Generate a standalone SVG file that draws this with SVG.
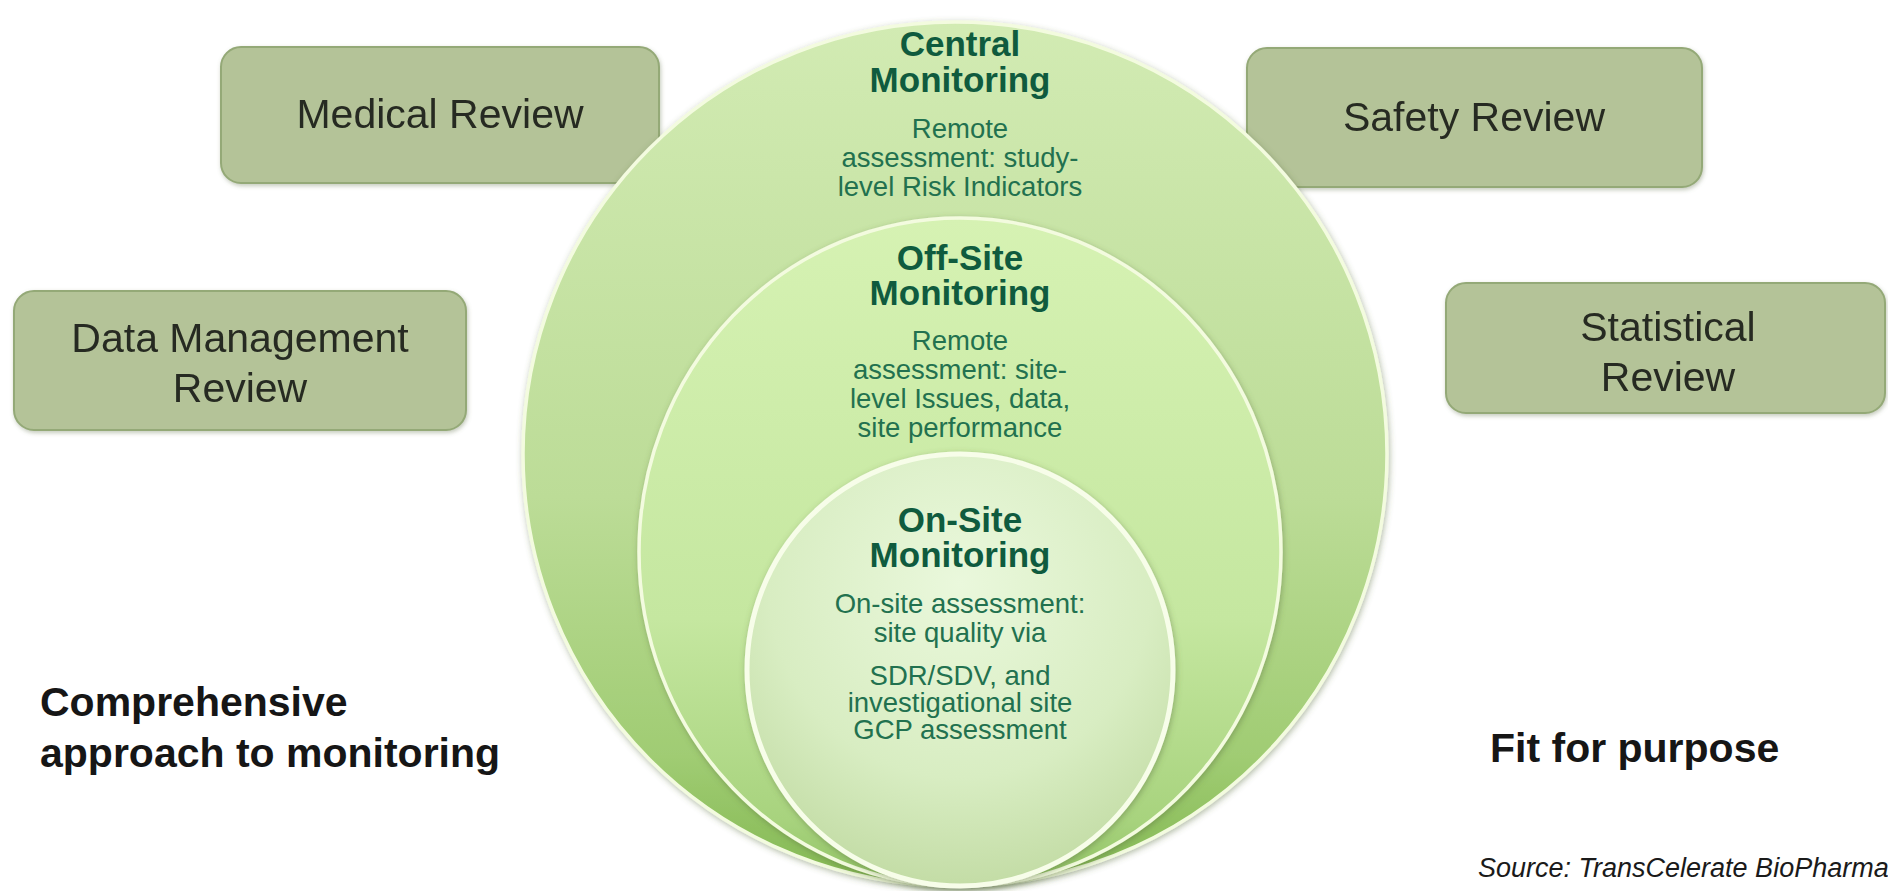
<svg xmlns="http://www.w3.org/2000/svg" width="1888" height="891" viewBox="0 0 1888 891">
  <defs>
    <linearGradient id="gOuter" x1="0" y1="0" x2="0" y2="1">
      <stop offset="0" stop-color="#d2ebb3"/>
      <stop offset="0.55" stop-color="#bcdc97"/>
      <stop offset="0.85" stop-color="#a0cc73"/>
      <stop offset="1" stop-color="#83b852"/>
    </linearGradient>
    <linearGradient id="gMiddle" x1="0" y1="0" x2="0" y2="1">
      <stop offset="0" stop-color="#d6f2b3"/>
      <stop offset="0.6" stop-color="#c5e7a0"/>
      <stop offset="0.9" stop-color="#a8d37e"/>
      <stop offset="1" stop-color="#90c263"/>
    </linearGradient>
    <radialGradient id="gInner" cx="0.5" cy="0.3" r="0.75">
      <stop offset="0" stop-color="#eaf8dc"/>
      <stop offset="0.6" stop-color="#d8edc2"/>
      <stop offset="1" stop-color="#bfd9a0"/>
    </radialGradient>
    <filter id="soft" x="-10%" y="-10%" width="120%" height="120%">
      <feGaussianBlur in="SourceAlpha" stdDeviation="3"/>
      <feOffset dx="1" dy="2" result="b"/>
      <feFlood flood-color="#556b3a" flood-opacity="0.45"/>
      <feComposite in2="b" operator="in"/>
      <feMerge><feMergeNode/><feMergeNode in="SourceGraphic"/></feMerge>
    </filter>
    <filter id="boxShadow" x="-10%" y="-10%" width="120%" height="130%">
      <feGaussianBlur in="SourceAlpha" stdDeviation="2"/>
      <feOffset dx="1" dy="2" result="b"/>
      <feFlood flood-color="#6b7a55" flood-opacity="0.4"/>
      <feComposite in2="b" operator="in"/>
      <feMerge><feMergeNode/><feMergeNode in="SourceGraphic"/></feMerge>
    </filter>
  </defs>
  <style>
    .box { fill: #b4c398; stroke: #94a977; stroke-width: 2; }
    .boxText { font-family: "Liberation Sans", Arial, sans-serif; font-size: 41px; fill: #282c22; text-anchor: middle; }
    .ring { stroke: #f3fbdf; stroke-width: 3.5; }
    .core { stroke: #f7fde9; stroke-width: 5; }
    .head { font-family: "Liberation Sans", Arial, sans-serif; font-weight: bold; font-size: 35px; fill: #0f5b3e; text-anchor: middle; }
    .body { font-family: "Liberation Sans", Arial, sans-serif; font-size: 27.5px; fill: #22714f; text-anchor: middle; }
    .note { font-family: "Liberation Sans", Arial, sans-serif; font-weight: bold; font-size: 41px; fill: #161616; }
    .source { font-family: "Liberation Sans", Arial, sans-serif; font-style: italic; font-size: 27px; fill: #1a1a1a; }
  </style>

  <rect x="0" y="0" width="1888" height="891" fill="#ffffff"/>

  <!-- review boxes -->
  <g id="medical-review" filter="url(#boxShadow)">
    <rect class="box" x="221" y="47" width="438" height="136" rx="20"/>
    <text class="boxText" x="440" y="128">Medical Review</text>
  </g>
  <g id="safety-review" filter="url(#boxShadow)">
    <rect class="box" x="1247" y="48" width="455" height="139" rx="20"/>
    <text class="boxText" x="1474" y="131">Safety Review</text>
  </g>
  <g id="data-management-review" filter="url(#boxShadow)">
    <rect class="box" x="14" y="291" width="452" height="139" rx="20"/>
    <text class="boxText" x="240" y="352">Data Management</text>
    <text class="boxText" x="240" y="402">Review</text>
  </g>
  <g id="statistical-review" filter="url(#boxShadow)">
    <rect class="box" x="1446" y="283" width="439" height="130" rx="20"/>
    <text class="boxText" x="1668" y="341">Statistical</text>
    <text class="boxText" x="1668" y="391">Review</text>
  </g>

  <!-- nested monitoring circles -->
  <g id="central-monitoring">
    <circle class="ring" cx="955" cy="454" r="432" fill="url(#gOuter)" filter="url(#soft)"/>
    <text class="head" x="960" y="56">Central</text>
    <text class="head" x="960" y="92">Monitoring</text>
    <text class="body" x="960" y="138">Remote</text>
    <text class="body" x="960" y="167">assessment: study-</text>
    <text class="body" x="960" y="196">level Risk Indicators</text>
  </g>
  <g id="off-site-monitoring">
    <ellipse class="ring" cx="960" cy="552" rx="321" ry="334" fill="url(#gMiddle)" filter="url(#soft)"/>
    <text class="head" x="960" y="270">Off-Site</text>
    <text class="head" x="960" y="305">Monitoring</text>
    <text class="body" x="960" y="350">Remote</text>
    <text class="body" x="960" y="379">assessment: site-</text>
    <text class="body" x="960" y="408">level Issues, data,</text>
    <text class="body" x="960" y="437">site performance</text>
  </g>
  <g id="on-site-monitoring">
    <ellipse class="core" cx="960" cy="670" rx="213" ry="216" fill="url(#gInner)" filter="url(#soft)"/>
    <text class="head" x="960" y="532">On-Site</text>
    <text class="head" x="960" y="567">Monitoring</text>
    <text class="body" x="960" y="613">On-site assessment:</text>
    <text class="body" x="960" y="642">site quality via</text>
    <text class="body" x="960" y="685">SDR/SDV, and</text>
    <text class="body" x="960" y="712">investigational site</text>
    <text class="body" x="960" y="739">GCP assessment</text>
  </g>

  <!-- no connectors in this figure -->
  <g id="connectors"/>

  <!-- side notes -->
  <text class="note" x="40" y="716">Comprehensive</text>
  <text class="note" x="40" y="767">approach to monitoring</text>
  <text class="note" x="1490" y="762">Fit for purpose</text>
  <text class="source" x="1478" y="877">Source: TransCelerate BioPharma</text>
</svg>
